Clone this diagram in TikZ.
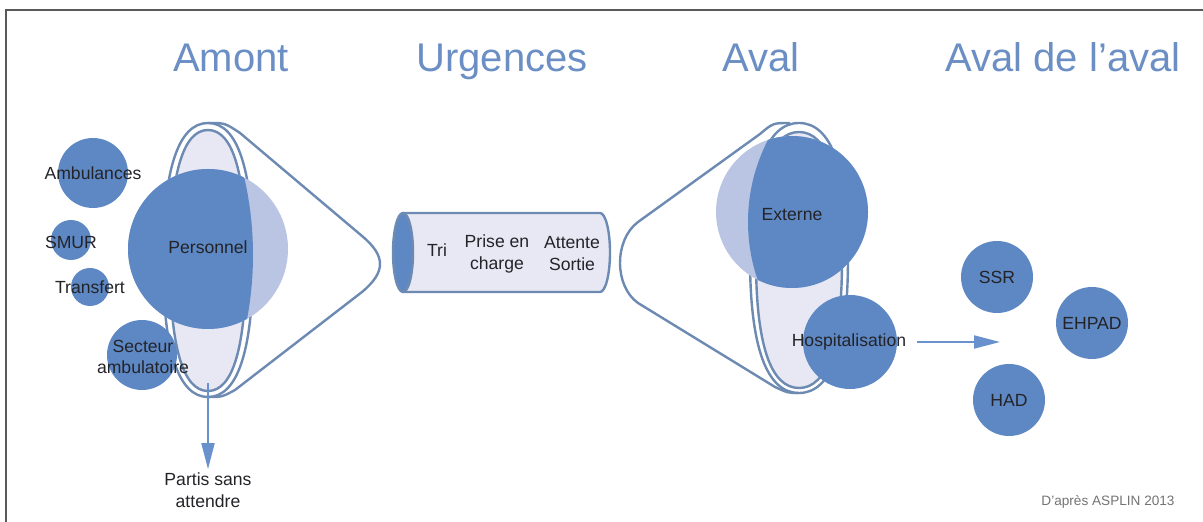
\documentclass[tikz,border=0pt]{standalone}
\usepackage{fontspec}
\setmainfont{Liberation Sans}
\usetikzlibrary{arrows.meta}

\definecolor{circblue}{RGB}{94,136,196}
\definecolor{circlight}{RGB}{186,197,228}
\definecolor{lavender}{RGB}{231,232,244}
\definecolor{rimcol}{RGB}{108,138,178}
\definecolor{titleblue}{RGB}{107,143,196}
\definecolor{arrowblue}{RGB}{104,145,205}
\definecolor{txt}{RGB}{35,35,40}

% fuller oval: centre x, centre y, x radius, y radius
\newcommand{\ovalpath}[4]{%
    (#1,#2-#4) .. controls (#1+0.66*#3,#2-#4) and (#1+#3,#2-0.66*#4) .. (#1+#3,#2)
    .. controls (#1+#3,#2+0.66*#4) and (#1+0.66*#3,#2+#4) .. (#1,#2+#4)
    .. controls (#1-0.66*#3,#2+#4) and (#1-#3,#2+0.66*#4) .. (#1-#3,#2)
    .. controls (#1-#3,#2-0.66*#4) and (#1-0.66*#3,#2-#4) .. cycle}

\tikzset{
    dot/.style={circle, fill=circblue, draw=none, inner sep=0pt},
    lbl/.style={text=txt, font=\fontsize{8.8}{11}\selectfont, align=center, inner sep=0pt},
    heading/.style={text=titleblue, font=\fontsize{20}{24}\selectfont, anchor=base},
    rim/.style={draw=rimcol, line width=1.2pt},
    flow/.style={draw=arrowblue, line width=1pt, -{Triangle[length=13pt, width=6.5pt]}},
}

\begin{document}
\begin{tikzpicture}[x=0.5pt, y=-0.5pt]
    \useasboundingbox (0,0) rectangle (1203,522);
    % frame
    \draw[line width=1pt, black!65] (6,522) -- (6,10) -- (1203,10);

    % titles
    \node[heading] (amont) at (231,72) {Amont};
    \node[heading] (urgences) at (502,72) {Urgences};
    \node[heading] (aval) at (761,72) {Aval};
    \node[heading] (avalaval) at (1063,72) {Aval de l'aval};

    % amont funnel
    \draw[rim] \ovalpath{208}{260}{45}{137};
    \draw[rim] (208,123) .. controls (225,123) .. (240,133) -- (362,236)
        .. controls (386,256) and (386,272) .. (362,292)
        -- (235,390) .. controls (222,397) .. (208,397);
    \draw[rim, fill=lavender] \ovalpath{208}{260.5}{38}{130.5};

    % personnel
    \fill[circlight] (208,249) circle[radius=80];
    \begin{scope}
        \clip (208,249) circle[radius=80];
        \fill[circblue] (-92,255) circle[radius=345];
    \end{scope}
    \node[circle, minimum size=80pt, inner sep=0pt] (pers) at (208,249) {};
    \node[lbl] (pers-l) at (208,247) {Personnel};

    \node[dot, minimum size=35pt] (amb) at (93,173) {};
    \node[lbl] (amb-l) at (amb) {Ambulances};
    \node[dot, minimum size=20pt] (smur) at (71,240) {};
    \node[lbl] (smur-l) at (71,242) {SMUR};
    \node[dot, minimum size=19pt] (trf) at (90,287) {};
    \node[lbl] (trf-l) at (trf) {Transfert};
    \node[dot, minimum size=35pt] (sect) at (142,355) {};
    \node[lbl, font=\fontsize{8.8}{10.5}\selectfont] (sect-l) at (143,357) {Secteur\\ambulatoire};

    % partis sans attendre
    \coordinate (partis-top) at (208,383);
    \node[lbl] (partis) at (208,490) {Partis sans\\attendre};
    \draw[flow, shorten >=1.5pt] (partis-top) -- (partis);

    % urgences tube
    \fill[lavender] (403,213) -- (600,213)
        arc[start angle=-90, end angle=90, x radius=10, y radius=39.5]
        -- (403,292) -- cycle;
    \draw[rim] (403,213) -- (600,213)
        arc[start angle=-90, end angle=90, x radius=10, y radius=39.5]
        -- (403,292);
    \draw[rim, fill=circblue] (403,252.5) ellipse[x radius=10, y radius=39.5];
    \node[lbl] (tri) at (437,250) {Tri};
    \node[lbl] (prise) at (497,254) {Prise en\\charge};
    \node[lbl] (attente) at (572,254) {Attente\\Sortie};

    % aval funnel
    \draw[rim] \ovalpath{799}{258}{49}{135};
    \draw[rim] (790,123) .. controls (773,123) .. (760,134) -- (638,222)
        .. controls (614,240) and (614,286) .. (638,303)
        -- (775,387) .. controls (788,393) .. (799,393);
    \draw[rim, fill=lavender] \ovalpath{799}{260}{43}{128};

    % externe
    \fill[circlight] (792,212) circle[radius=76];
    \begin{scope}
        \clip (792,212) circle[radius=76];
        \fill[circblue] (926,222) circle[radius=178];
    \end{scope}
    \node[circle, minimum size=76pt, inner sep=0pt] (ext) at (792,212) {};
    \node[lbl] (ext-l) at (792,215) {Externe};

    \node[dot, minimum size=47pt] (hosp) at (850,342) {};
    \node[lbl] (hosp-l) at (849,342) {Hospitalisation};

    % aval de l'aval
    \coordinate (aval2) at (1000,342);
    \draw[flow, shorten <=10pt] (hosp.east) -- (aval2);
    \node[dot, minimum size=36pt] (ssr) at (997,277) {};
    \node[lbl] (ssr-l) at (ssr) {SSR};
    \node[dot, minimum size=36pt] (ehpad) at (1092,323) {};
    \node[lbl] (ehpad-l) at (ehpad) {EHPAD};
    \node[dot, minimum size=36pt] (had) at (1009,400) {};
    \node[lbl] (had-l) at (had) {HAD};

    \node[text=black!55, font=\fontsize{6.8}{8}\selectfont] (source) at (1108,502) {D'après ASPLIN 2013};
\end{tikzpicture}
\end{document}
